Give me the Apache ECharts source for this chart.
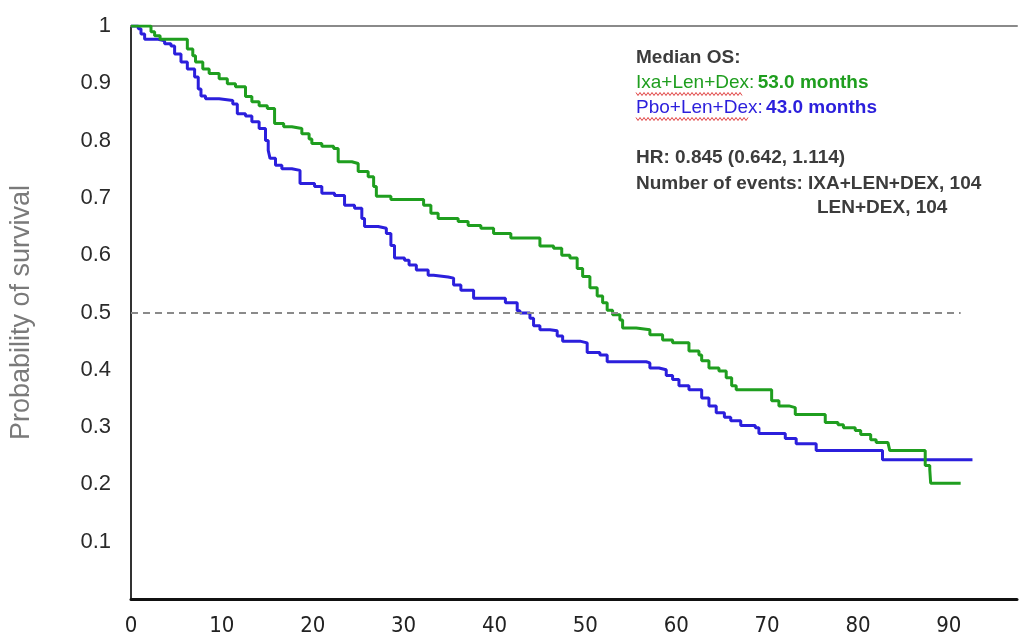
<!DOCTYPE html>
<html>
<head>
<meta charset="utf-8">
<script src="https://cdn.jsdelivr.net/npm/echarts@6/dist/echarts.min.js"></script>
<style>
html,body{margin:0;padding:0;background:#fff;}
#chart{width:1020px;height:637px;}
</style>
</head>
<body>
<div id="chart"></div>
<script>
// Ixa+Len+Dex (green) Kaplan-Meier step data: time (months) and survival probability
const ixaTime = [0, 2.2, 2.6, 3.2, 6.2, 6.8, 7.1, 7.9, 8.6, 9.7, 10.6, 11.5, 12.6, 13.3, 14.1, 15.0, 15.8, 16.8, 17.7, 18.8, 19.6, 19.9, 21.0, 22.3, 22.8, 24.3, 25.0, 26.1, 26.7, 27.0, 28.6, 32.2, 33.0, 33.8, 36.0, 37.1, 38.5, 39.9, 41.8, 45.0, 46.5, 47.4, 48.3, 49.1, 49.7, 50.5, 51.3, 51.9, 52.4, 53.0, 53.8, 54.1, 55.6, 57.1, 58.5, 59.6, 61.4, 62.5, 62.8, 63.6, 64.7, 65.5, 66.1, 66.6, 70.5, 71.3, 72.4, 73.1, 76.4, 77.8, 78.4, 79.7, 80.3, 81.4, 82.0, 83.3, 83.5, 87.4, 87.9, 88.0, 91.3];
const ixaSurv = [1.0, 0.990, 0.983, 0.977, 0.960, 0.948, 0.937, 0.925, 0.917, 0.908, 0.899, 0.894, 0.877, 0.868, 0.861, 0.856, 0.830, 0.824, 0.821, 0.812, 0.803, 0.795, 0.790, 0.786, 0.763, 0.760, 0.746, 0.737, 0.720, 0.703, 0.697, 0.687, 0.673, 0.664, 0.659, 0.652, 0.647, 0.638, 0.630, 0.616, 0.612, 0.600, 0.595, 0.577, 0.563, 0.543, 0.529, 0.517, 0.504, 0.496, 0.487, 0.473, 0.470, 0.461, 0.452, 0.447, 0.433, 0.426, 0.416, 0.403, 0.398, 0.386, 0.372, 0.365, 0.346, 0.337, 0.334, 0.322, 0.308, 0.304, 0.299, 0.294, 0.287, 0.278, 0.273, 0.270, 0.259, 0.233, 0.226, 0.202, 0.202];

// Pbo+Len+Dex (blue)
const pboTime = [0, 0.8, 1.1, 1.5, 3.0, 3.7, 4.4, 4.8, 5.5, 6.2, 7.0, 7.4, 7.7, 8.2, 9.7, 11.2, 11.7, 12.6, 13.3, 14.1, 14.8, 15.1, 15.3, 15.9, 16.6, 17.7, 18.6, 20.2, 21.0, 22.4, 23.5, 24.6, 25.4, 25.7, 27.2, 28.1, 28.6, 29.0, 30.1, 30.6, 31.4, 32.7, 33.3, 34.9, 35.5, 36.3, 37.7, 41.2, 42.5, 42.8, 43.9, 44.3, 45.0, 46.1, 46.9, 47.5, 49.4, 50.2, 51.6, 52.4, 56.7, 57.1, 58.1, 58.9, 59.6, 60.3, 61.4, 62.8, 63.6, 64.4, 65.3, 66.0, 67.1, 68.7, 69.1, 72.0, 73.2, 75.4, 82.7, 92.6];
const pboSurv = [1.0, 0.995, 0.986, 0.977, 0.974, 0.969, 0.965, 0.951, 0.937, 0.925, 0.911, 0.890, 0.878, 0.873, 0.870, 0.864, 0.847, 0.843, 0.833, 0.821, 0.800, 0.783, 0.769, 0.757, 0.751, 0.748, 0.725, 0.720, 0.708, 0.704, 0.687, 0.682, 0.664, 0.650, 0.647, 0.638, 0.617, 0.595, 0.591, 0.583, 0.574, 0.565, 0.562, 0.560, 0.548, 0.539, 0.525, 0.517, 0.503, 0.499, 0.490, 0.477, 0.470, 0.468, 0.459, 0.450, 0.447, 0.430, 0.426, 0.414, 0.412, 0.403, 0.400, 0.390, 0.383, 0.372, 0.365, 0.351, 0.337, 0.325, 0.317, 0.311, 0.303, 0.299, 0.289, 0.280, 0.271, 0.259, 0.243, 0.243];

// Axis ticks / reference line
const xTicks = [0, 10, 20, 30, 40, 50, 60, 70, 80, 90];
const yTicks = [0.1, 0.2, 0.3, 0.4, 0.5, 0.6, 0.7, 0.8, 0.9, 1];
const medianRef = 0.5;
const medianRefEnd = 91.3;

const GREEN = '#1f9e1f';
const BLUE = '#2b1fdc';

const zip = (t, s) => t.map((v, i) => [v, s[i]]);

function squiggle(x0, x1, y) {
  const pts = [];
  for (let x = x0, k = 0; x <= x1; x += 2, k++) pts.push([x, y + (k % 2 ? 1.5 : -1.5)]);
  return pts;
}

const chart = echarts.init(document.getElementById('chart'));
const legendFont = 'Liberation Sans, Arial, sans-serif';
chart.setOption({
  animation: false,
  backgroundColor: '#ffffff',
  grid: { left: 128, top: 26, right: 0, bottom: 35, containLabel: false },
  xAxis: [{
    type: 'value', min: 0, max: 97.5, interval: 10, position: 'bottom',
    axisLine: { show: true, onZero: false, lineStyle: { color: '#111', width: 3 } },
    axisTick: { show: false }, splitLine: { show: false },
    axisLabel: {
      margin: 16, color: '#222', fontSize: 22,
      fontFamily: "'Liberation Sans Narrow', 'DejaVu Sans Condensed', sans-serif",
      formatter: v => xTicks.includes(v) ? String(v) : ''
    }
  }, {
    type: 'value', min: 0, max: 97.5, position: 'top',
    axisLine: { show: true, onZero: false, lineStyle: { color: '#8a8a8a', width: 2 } },
    axisTick: { show: false }, axisLabel: { show: false }, splitLine: { show: false }
  }],
  yAxis: {
    type: 'value', min: 0, max: 1, interval: 0.1,
    name: 'Probability of survival', nameLocation: 'middle', nameGap: 96,
    nameTextStyle: { color: '#7a7a7a', fontSize: 27, fontFamily: legendFont },
    axisLine: { show: true, onZero: false, lineStyle: { color: '#333', width: 2 } },
    axisTick: { show: false }, splitLine: { show: false },
    axisLabel: {
      margin: 20, color: '#2a2a2a', fontSize: 22, fontFamily: legendFont,
      formatter: v => {
        const m = yTicks.find(t => Math.abs(t - v) < 1e-6);
        return m === undefined ? '' : (m === 1 ? '1' : m.toFixed(1));
      }
    }
  },
  series: [{
    name: 'Ixa+Len+Dex', type: 'line', step: 'end', showSymbol: false,
    data: zip(ixaTime, ixaSurv),
    lineStyle: { color: GREEN, width: 3 }, itemStyle: { color: GREEN },
    z: 3,
    markLine: {
      silent: true, symbol: 'none', label: { show: false },
      lineStyle: { color: '#8a8a8a', type: [7, 5], width: 2 },
      data: [[{ coord: [0, medianRef] }, { coord: [medianRefEnd, medianRef] }]]
    }
  }, {
    name: 'Pbo+Len+Dex', type: 'line', step: 'end', showSymbol: false,
    data: zip(pboTime, pboSurv),
    lineStyle: { color: BLUE, width: 3 }, itemStyle: { color: BLUE },
    z: 2
  }],
  graphic: [
    { type: 'text', left: 636, top: 48, style: { text: 'Median OS:', fill: '#3c3c3c', font: 'bold 19px ' + legendFont } },
    { type: 'text', left: 636, top: 73, style: {
      text: '{a|Ixa+Len+Dex:} {b|53.0 months}',
      rich: { a: { fill: GREEN, font: '19px ' + legendFont }, b: { fill: GREEN, font: 'bold 19px ' + legendFont } }
    } },
    { type: 'text', left: 636, top: 98, style: {
      text: '{a|Pbo+Len+Dex:} {b|43.0 months}',
      rich: { a: { fill: BLUE, font: '19px ' + legendFont }, b: { fill: BLUE, font: 'bold 19px ' + legendFont } }
    } },
    { type: 'polyline', shape: { points: squiggle(636, 742, 94) }, style: { stroke: '#e04040', lineWidth: 1, fill: null } },
    { type: 'polyline', shape: { points: squiggle(636, 748, 119) }, style: { stroke: '#e04040', lineWidth: 1, fill: null } },
    { type: 'text', left: 636, top: 148, style: { text: 'HR: 0.845 (0.642, 1.114)', fill: '#3c3c3c', font: 'bold 19px ' + legendFont } },
    { type: 'text', left: 636, top: 174, style: { text: 'Number of events: IXA+LEN+DEX, 104', fill: '#3c3c3c', font: 'bold 19px ' + legendFont } },
    { type: 'text', left: 817, top: 198, style: { text: 'LEN+DEX, 104', fill: '#3c3c3c', font: 'bold 19px ' + legendFont } }
  ]
});
</script>
</body>
</html>
